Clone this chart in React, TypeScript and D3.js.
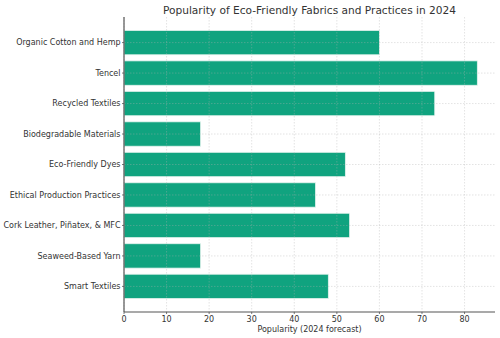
import React from "react";
import * as d3 from "d3";

const categories = [
  "Organic Cotton and Hemp",
  "Tencel",
  "Recycled Textiles",
  "Biodegradable Materials",
  "Eco-Friendly Dyes",
  "Ethical Production Practices",
  "Cork Leather, Piñatex, & MFC",
  "Seaweed-Based Yarn",
  "Smart Textiles",
];
const values = [60, 83, 73, 18, 52, 45, 53, 18, 48];
const xTicks = [0, 10, 20, 30, 40, 50, 60, 70, 80];
const title = "Popularity of Eco-Friendly Fabrics and Practices in 2024";
const xLabel = "Popularity (2024 forecast)";

const W = 500, H = 338;
const left = 124, right = 495, top = 17, bottom = 312;
const font = "DejaVu Sans, sans-serif";

export default function App() {
  const maxV = d3.max(values) as number;
  const x = d3.scaleLinear().domain([0, maxV * 1.05]).range([left, right]);
  const n = categories.length;
  const y = d3.scaleLinear().domain([-0.84, n - 1 + 0.84]).range([top, bottom]);
  const bh = y(0.4) - y(-0.4);
  return (
    <svg width={W} height={H} style={{ position: "absolute", left: 0, top: 0 }} fontFamily={font}>
      <rect width={W} height={H} fill="#ffffff" />
      {categories.map((c, i) => (
        <rect key={"b" + i} x={x(0)} y={y(i) - bh / 2} width={x(values[i]) - x(0)} height={bh} fill="#10a37f" stroke="#e6f4ef" strokeWidth={0.8} />
      ))}
      {xTicks.map((t) => (
        <line key={"gx" + t} x1={x(t)} x2={x(t)} y1={top} y2={bottom} stroke="#b0b0b0" strokeOpacity={0.45} strokeWidth={0.8} strokeDasharray="1.5,1.5" />
      ))}
      {categories.map((c, i) => (
        <line key={"gy" + i} x1={left} x2={right} y1={y(i)} y2={y(i)} stroke="#b0b0b0" strokeOpacity={0.45} strokeWidth={0.8} strokeDasharray="1.5,1.5" />
      ))}
      <line x1={left} x2={left} y1={top} y2={bottom} stroke="#555" strokeWidth={1.2} />
      <line x1={left} x2={right} y1={bottom} y2={bottom} stroke="#555" strokeWidth={1.2} />
      {categories.map((c, i) => (
        <line key={"yt" + i} x1={left - 2} x2={left} y1={y(i)} y2={y(i)} stroke="#555" strokeWidth={0.8} />
      ))}
      {xTicks.map((t) => (
        <line key={"xt" + t} x1={x(t)} x2={x(t)} y1={bottom} y2={bottom + 2} stroke="#555" strokeWidth={0.8} />
      ))}
      {categories.map((c, i) => (
        <text key={"yl" + i} x={left - 3.5} y={y(i)} dy="0.35em" textAnchor="end" fontSize={8} fill="#333">{c}</text>
      ))}
      {xTicks.map((t) => (
        <text key={"xl" + t} x={x(t)} y={bottom + 10} textAnchor="middle" fontSize={8} fill="#333">{t}</text>
      ))}
      <text x={(left + right) / 2} y={bottom + 20} textAnchor="middle" fontSize={8} fill="#333">{xLabel}</text>
      <text x={(left + right) / 2} y={14} textAnchor="middle" fontSize={10.6} fill="#333">{title}</text>
    </svg>
  );
}
